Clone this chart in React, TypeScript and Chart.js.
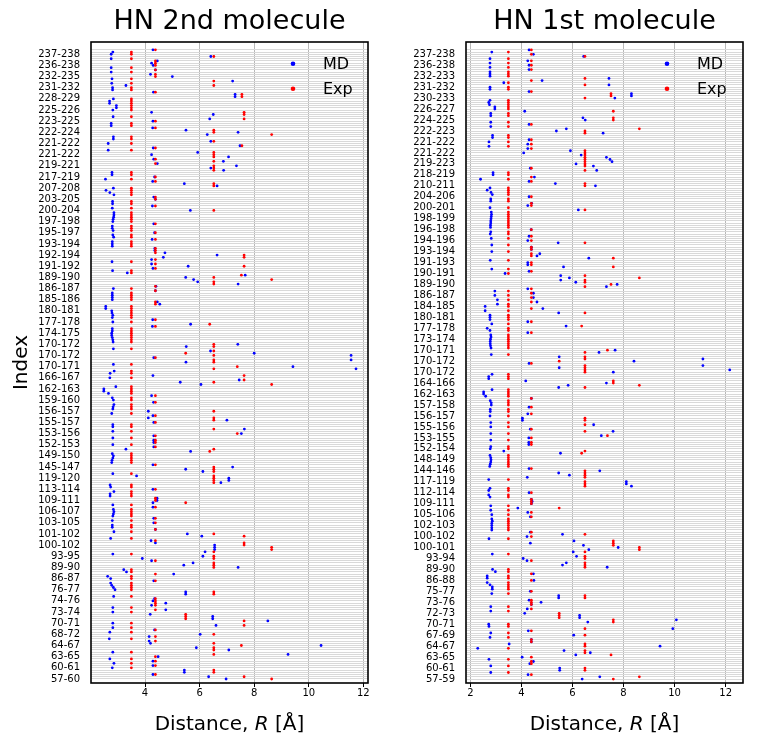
import React, { useEffect, useRef } from 'react';
import { Chart, registerables } from 'chart.js';
Chart.register(...registerables);

// ---------- DATA (rows listed top to bottom) ----------
const leftLabels = ['237-238','236-238','232-235','231-232','228-229','225-226','223-225','222-224','221-222','221-222',
  '219-221','217-219','207-208','203-205','200-204','197-198','195-197','193-194','192-194','191-192',
  '189-190','186-187','185-186','180-181','177-178','174-175','170-172','170-172','170-171','166-167',
  '162-163','159-160','156-157','155-157','153-156','152-153','149-150','145-147','119-120','113-114',
  '109-111','106-107','103-105','101-102','100-102','93-95','89-90','86-87','76-77','74-76',
  '73-74','70-71','68-72','64-67','63-65','60-61','57-60'];

const leftMD = [4.29, 2.82,
  2.76, 6.41, 2.76, 4.45, 4.24,  4.3, 2.76, 4.38, 2.76, 4.2,  5.0, 2.79, 7.21, 2.78, 3.3,  2.81, 2.81, 4.31, 7.3, 7.3,
  2.84, 2.7, 2.7, 2.95, 2.95,  2.82, 4.24, 6.5, 2.83, 6.37,  4.29, 2.76, 2.76, 4.28, 5.5,  7.41, 6.28, 2.84, 2.84, 6.41,
  2.65, 7.48, 4.3, 2.65, 5.93,  4.24, 7.06, 4.32, 6.87, 4.45,  7.35, 6.41, 6.88, 2.79, 2.79,  4.35, 2.55, 4.28, 5.44, 6.64,
  2.84, 2.57, 2.71, 2.86, 4.32,  4.38, 2.81, 2.81, 4.27, 2.8,  5.66, 2.86, 2.86, 2.85, 2.83,  2.82, 4.32, 2.8, 2.8, 2.83,
  4.35, 2.82, 2.85, 4.26, 2.8,  2.8, 2.8, 4.36, 4.36, 4.73,  6.64, 4.67, 4.24, 2.79, 4.24,  5.58, 4.29, 2.81, 3.35, 7.67,
  5.49, 5.78, 5.93, 7.41, 4.4,  2.84, 4.38, 2.8, 2.8, 2.8,  2.8, 4.45, 4.54, 2.56, 2.56,  2.78, 2.79, 2.82, 2.8, 4.28,
  2.82, 5.67, 4.27, 2.8, 2.8,  2.78, 2.78, 2.8, 2.82, 2.83,  7.4, 5.51, 2.84, 6.4, 8.0,  11.55, 4.32, 11.55, 5.5, 2.84,
  9.42, 11.73, 2.87, 2.72, 4.29,  2.71, 7.45, 5.29, 6.05, 2.93,  2.49, 2.49, 2.66, 4.24, 2.8,  2.84, 4.31, 2.86, 2.83, 2.82,
  4.12, 2.78, 4.29, 4.12, 7.0,  4.32, 2.82, 2.82, 7.64, 2.82,  7.53, 4.32, 2.82, 4.32, 4.32,  2.82, 4.32, 3.3, 5.67, 2.8,
  2.84, 2.82, 2.79, 2.78, 4.29,  7.21, 5.49, 6.12, 2.82, 3.69,  7.07, 7.07, 6.78, 2.72, 2.74,  4.29, 2.86, 2.72, 2.72, 4.44,
  4.44, 4.29, 2.82, 4.29, 2.84,  2.86, 2.84, 2.82, 4.32, 2.8,  4.32, 2.8, 2.8, 4.38, 2.86,  5.55, 6.08, 2.74, 4.22, 4.38,
  6.55, 6.55, 6.55, 6.2, 2.82,  6.12, 3.9, 4.24, 5.76, 5.42,  7.41, 3.22, 3.32, 5.05, 2.63,  2.74, 4.32, 2.74, 2.78, 2.84,
  2.9, 5.49, 5.49, 2.85, 4.35,  4.29, 4.76, 4.24, 2.82, 4.76,  2.82, 4.19, 6.48, 6.48, 8.5,  2.82, 6.6, 2.82, 4.35, 2.71,
  6.02, 4.15, 2.69, 4.15, 4.2,  10.45, 5.88, 7.07, 2.82, 9.24,  4.48, 2.71, 4.29, 2.86, 4.29,  2.8, 5.44, 5.44, 4.29, 6.33,
  6.97];

const leftExp = [4.38, 3.5,
  3.5, 6.52, 3.5, 4.38, 4.38,  4.38, 3.5, 4.38, 3.5, 4.38,  4.38, 3.5, 6.52, 3.5, 6.52,  3.5, 3.5, 4.38, 7.55, 7.55,
  3.5, 3.5, 3.5, 3.5, 3.5,  3.5, 7.63, 7.63, 3.5, 7.63,  4.38, 3.5, 3.5, 4.38, 6.52,  6.52, 8.64, 3.5, 3.5, 6.52,
  3.5, 7.55, 4.38, 3.5, 6.52,  6.52, 6.52, 4.38, 6.52, 4.38,  6.52, 6.52, 6.52, 3.5, 3.5,  4.38, 3.5, 4.38, 6.52, 6.52,
  3.5, 3.5, 3.5, 3.5, 4.38,  4.38, 3.5, 3.5, 4.38, 3.5,  6.52, 3.5, 3.5, 3.5, 3.5,  3.5, 4.38, 3.5, 3.5, 3.5,
  4.38, 3.5, 3.5, 4.38, 3.5,  3.5, 3.5, 4.38, 4.38, 4.38,  7.63, 7.63, 4.38, 3.5, 4.38,  7.63, 4.38, 3.5, 3.5, 7.53,
  6.52, 8.64, 6.52, 6.52, 4.38,  3.5, 4.38, 3.5, 3.5, 3.5,  3.5, 4.38, 4.38, 3.5, 3.5,  3.5, 3.5, 3.5, 3.5, 4.38,
  3.5, 6.37, 4.38, 3.5, 3.5,  3.5, 3.5, 3.5, 3.5, 3.5,  6.52, 6.52, 3.5, 6.52, 5.49,  6.52, 4.38, 6.52, 6.52, 3.5,
  7.38, 6.52, 3.5, 3.5, 7.63,  3.5, 7.63, 6.52, 8.64, 3.5,  3.5, 3.5, 3.5, 4.38, 3.5,  3.5, 4.38, 3.5, 3.5, 3.5,
  6.52, 3.5, 4.38, 6.52, 6.52,  4.38, 3.5, 3.5, 6.52, 3.5,  7.38, 4.38, 3.5, 4.38, 4.38,  3.5, 4.38, 6.52, 6.37, 3.5,
  3.5, 3.5, 3.5, 3.5, 4.38,  6.52, 6.52, 6.52, 3.5, 6.52,  6.52, 6.52, 6.52, 3.5, 3.5,  4.38, 3.5, 3.5, 3.5, 4.38,
  4.38, 5.49, 3.5, 4.38, 3.5,  3.5, 3.5, 3.5, 4.38, 3.5,  4.38, 3.5, 3.5, 4.38, 3.5,  6.52, 7.63, 3.5, 4.38, 7.63,
  7.63, 8.64, 8.64, 6.52, 3.5,  6.52, 6.52, 4.38, 6.52, 6.52,  6.52, 3.5, 3.5, 4.38, 3.5,  3.5, 4.38, 3.5, 3.5, 3.5,
  3.5, 6.52, 6.52, 3.5, 4.38,  4.38, 4.38, 4.38, 3.5, 4.38,  3.5, 5.49, 5.49, 5.49, 7.63,  3.5, 7.63, 3.5, 4.38, 3.5,
  6.52, 4.38, 3.5, 4.38, 6.52,  7.53, 6.52, 6.52, 3.5, 6.52,  4.38, 3.5, 4.38, 3.5, 4.38,  3.5, 6.52, 6.52, 4.38, 7.63,
  8.64];

const rightLabels = ['237-238','236-238','232-233','231-232','230-233','226-227','224-225','222-223','221-222','221-222',
  '219-223','218-219','210-211','204-206','200-201','198-199','196-198','194-196','193-194','191-193',
  '190-191','189-190','186-187','184-185','180-181','177-178','173-174','170-171','170-172','170-172',
  '164-166','162-163','157-158','156-157','155-156','153-155','152-154','148-149','144-146','117-119',
  '112-114','109-111','105-106','102-103','100-102','100-101','93-94','89-90','86-88','75-77',
  '73-76','72-73','70-71','67-69','64-67','63-65','60-61','57-59'];

const rightMD = [4.3, 2.84,
  4.47, 6.44, 2.77, 4.25, 2.77,  4.3, 2.77, 4.3, 2.77, 2.77,  2.77, 7.43, 4.81, 3.31, 7.43,  2.77, 2.77, 4.3, 8.31, 8.31,
  7.66, 2.77, 2.72, 2.75, 2.96,  2.96, 4.13, 2.8, 2.8, 6.41,  6.5, 2.8, 4.3, 2.8, 5.76,  5.37, 7.2, 2.87, 2.87, 4.3,
  2.73, 4.25, 2.73, 4.25, 5.92,  4.09, 6.34, 7.33, 7.47, 7.55,  6.14, 6.82, 4.35, 6.95, 2.89,  2.89, 4.51, 2.4, 4.3, 5.33,
  6.9, 2.77, 2.66, 2.81, 2.86,  4.3, 2.8, 2.8, 4.4, 4.25,  2.77, 6.23, 2.82, 2.83, 2.82,  2.81, 2.8, 2.8, 2.79, 2.79,
  4.38, 2.8, 2.78, 4.3, 2.82,  4.25, 5.44, 2.84, 4.39, 4.39,  2.84, 4.72, 4.61, 6.64, 2.78,  4.25, 4.25, 5.65, 2.84, 4.3,
  3.36, 5.54, 5.88, 5.54, 6.13,  7.75, 7.33, 4.25, 2.96, 4.47,  2.96, 4.47, 3.06, 4.61, 3.06,  2.58, 4.84, 2.58, 5.46, 2.77,
  2.77, 2.77, 4.25, 2.84, 5.75,  2.66, 2.77, 4.25, 2.8, 2.81,  2.79, 2.78, 2.78, 2.79, 2.81,  7.67, 7.04, 2.82, 5.48, 11.11,
  8.41, 4.3, 11.11, 5.48, 12.16,  7.6, 2.85, 2.72, 2.72, 4.17,  7.33, 5.83, 5.46, 2.85, 2.52,  2.52, 2.6, 4.39, 2.78, 2.82,
  2.82, 4.3, 2.78, 2.78, 4.25,  2.77, 4.04, 4.04, 2.8, 6.83,  2.8, 4.35, 7.59, 2.8, 7.13,  4.29, 2.8, 4.29, 4.29, 2.8,
  2.78, 3.31, 5.53, 2.77, 2.8,  2.81, 2.8, 2.78, 2.76, 4.3,  7.07, 5.46, 5.88, 4.23, 2.72,  8.11, 8.11, 8.31, 2.77, 2.72,
  4.3, 2.72, 2.77, 4.39, 4.42,  4.39, 2.8, 3.86, 2.8, 4.25,  2.84, 4.35, 2.84, 2.86, 2.84,  2.84, 2.84, 2.84, 4.35, 5.61,
  4.22, 2.73, 6.06, 4.35, 6.43,  7.79, 6.64, 6.03, 2.86, 6.16,  4.07, 4.22, 5.76, 5.61, 7.36,  2.87, 2.98, 4.47, 2.66, 2.66,
  4.49, 2.66, 2.77, 2.86, 2.86,  4.35, 2.84, 5.46, 5.46, 4.3,  4.77, 4.39, 2.8, 4.23, 2.8,  4.13, 6.28, 6.28, 10.07, 6.6,
  2.72, 2.73, 9.93, 4.27, 2.8,  6.05, 2.77, 4.39, 4.39, 3.52,  9.43, 2.29, 5.67, 6.7, 6.13,  4.03, 2.73, 4.47, 4.33, 2.8,
  5.5, 5.5, 2.8, 4.26, 7.07,
  6.38];

const rightExp = [4.39, 3.49,
  4.39, 6.49, 3.49, 4.39, 3.49,  4.39, 3.49, 4.39, 3.49, 3.49,  3.49, 6.49, 4.39, 3.49, 6.49,  3.49, 3.49, 4.39, 7.51, 7.51,
  6.49, 3.49, 3.49, 3.49, 3.49,  3.49, 7.6, 3.49, 3.49, 7.6,  7.6, 3.49, 4.39, 3.49, 8.62,  6.49, 6.49, 3.49, 3.49, 4.39,
  3.49, 4.39, 3.49, 4.39, 6.49,  6.49, 6.49, 6.49, 6.49, 6.49,  6.49, 6.49, 4.39, 6.49, 3.49,  3.49, 4.39, 3.49, 4.39, 6.49,
  6.49, 3.49, 3.49, 3.49, 3.49,  4.39, 3.49, 3.49, 4.39, 4.39,  3.49, 6.49, 3.49, 3.49, 3.49,  3.49, 3.49, 3.49, 3.49, 3.49,
  4.39, 3.49, 3.49, 4.39, 3.49,  4.39, 6.49, 3.49, 4.39, 4.39,  3.49, 4.39, 4.39, 7.6, 3.49,  4.39, 4.39, 7.6, 3.49, 4.39,
  3.49, 6.49, 8.62, 6.49, 6.49,  7.51, 6.49, 4.39, 3.49, 4.39,  3.49, 4.39, 3.49, 4.39, 3.49,  3.49, 4.39, 3.49, 6.49, 3.49,
  3.49, 3.49, 4.39, 3.49, 6.36,  3.49, 3.49, 4.39, 3.49, 3.49,  3.49, 3.49, 3.49, 3.49, 3.49,  7.37, 6.49, 3.49, 6.49, 6.49,
  5.48, 4.39, 6.49, 6.49, 6.49,  6.49, 3.49, 3.49, 3.49, 7.6,  7.6, 8.62, 6.49, 3.49, 3.49,  3.49, 3.49, 4.39, 3.49, 3.49,
  3.49, 4.39, 3.49, 3.49, 4.39,  3.49, 6.49, 6.49, 3.49, 6.49,  3.49, 4.39, 6.49, 3.49, 7.37,  4.39, 3.49, 4.39, 4.39, 3.49,
  3.49, 6.49, 6.36, 3.49, 3.49,  3.49, 3.49, 3.49, 3.49, 4.39,  6.49, 6.49, 6.49, 6.49, 3.49,  6.49, 6.49, 6.49, 3.49, 3.49,
  4.39, 3.49, 3.49, 4.39, 4.39,  4.39, 3.49, 5.48, 3.49, 4.39,  3.49, 4.39, 3.49, 3.49, 3.49,  3.49, 3.49, 3.49, 4.39, 6.49,
  4.39, 3.49, 7.6, 7.6, 7.6,  8.62, 8.62, 6.49, 3.49, 6.49,  6.49, 4.39, 6.49, 6.49, 6.49,  3.49, 3.49, 4.39, 3.49, 3.49,
  4.39, 3.49, 3.49, 3.49, 3.49,  4.39, 3.49, 6.49, 6.49, 4.39,  4.39, 4.39, 3.49, 4.39, 3.49,  5.48, 5.48, 5.48, 7.6, 7.6,
  3.49, 3.49, 6.49, 4.39, 3.49,  6.49, 3.49, 4.39, 4.39, 6.49,  6.49, 3.49, 6.49, 6.49, 7.51,  4.39, 3.49, 4.39, 4.39, 3.49,
  6.49, 6.49, 3.49, 4.39, 8.62,
  7.6];

const leftXTicks = [4, 6, 8, 10, 12];
const rightXTicks = [2, 4, 6, 8, 10, 12];
const leftTitle = 'HN 2nd molecule';
const rightTitle = 'HN 1st molecule';
const seriesNames = ['MD', 'Exp'];

const FONT = '"DejaVu Sans", "Liberation Sans", sans-serif';

type PanelCfg = {
  title: string;
  labels: string[];
  md: number[];
  exp: number[];
  xTicks: number[];
  xMin: number;
  xMax: number;
  yMax: number;
  yAxisWidth: number;
  padRight: number;
  showYTitle: boolean;
  legendX: number;
  legendTextX: number;
};

function buildChart(canvas: HTMLCanvasElement, cfg: PanelCfg) {
  const n = cfg.md.length;
  const topLabelRow = n - 3;
  const toPts = (arr: number[]) => arr.map((v, k) => ({ x: v, y: n - 1 - k }));
  const rowTicks = cfg.md.map((_, k) => ({ value: n - 1 - k })).reverse();

  const decor = {
    id: 'decor',
    afterDraw(chart: any) {
      const { ctx, chartArea: a } = chart;
      ctx.save();
      ctx.strokeStyle = '#000';
      ctx.lineWidth = 1.6;
      ctx.strokeRect(a.left, a.top, a.right - a.left, a.bottom - a.top);
      ctx.fillStyle = '#000';
      const cx = (a.left + a.right) / 2;
      ctx.font = `27px ${FONT}`;
      ctx.textAlign = 'center';
      ctx.textBaseline = 'alphabetic';
      ctx.fillText(cfg.title, cx, 29);
      const p1 = 'Distance, ';
      const p2 = 'R';
      const p3 = ' [\u00C5]';
      ctx.font = `20px ${FONT}`;
      const w1 = ctx.measureText(p1).width;
      const w3 = ctx.measureText(p3).width;
      ctx.font = `italic 20px ${FONT}`;
      const w2 = ctx.measureText(p2).width;
      const x0 = cx - (w1 + w2 + w3) / 2;
      ctx.textAlign = 'left';
      ctx.font = `20px ${FONT}`;
      ctx.fillText(p1, x0, 730);
      ctx.font = `italic 20px ${FONT}`;
      ctx.fillText(p2, x0 + w1, 730);
      ctx.font = `20px ${FONT}`;
      ctx.fillText(p3, x0 + w1 + w2, 730);
      if (cfg.showYTitle) {
        ctx.save();
        ctx.translate(27, (a.top + a.bottom) / 2);
        ctx.rotate(-Math.PI / 2);
        ctx.textAlign = 'center';
        ctx.font = `20px ${FONT}`;
        ctx.fillText('Index', 0, 0);
        ctx.restore();
      }
      const cols = ['#0000ff', '#ff0000'];
      const ys = [63.7, 88.7];
      ctx.font = `16px ${FONT}`;
      ctx.textBaseline = 'middle';
      ctx.textAlign = 'left';
      for (let s = 0; s < 2; s++) {
        ctx.fillStyle = cols[s];
        ctx.beginPath();
        ctx.arc(cfg.legendX, ys[s], 2.3, 0, Math.PI * 2);
        ctx.fill();
        ctx.fillStyle = '#000';
        ctx.fillText(seriesNames[s], cfg.legendTextX, ys[s] + 1);
      }
      ctx.restore();
    },
  };

  return new Chart(canvas, {
    type: 'scatter',
    data: {
      datasets: [
        {
          label: seriesNames[0],
          data: toPts(cfg.md),
          backgroundColor: '#0000ff',
          pointBackgroundColor: '#0000ff',
          pointBorderWidth: 0,
          pointRadius: 1.4,
          pointHoverRadius: 1.4,
          order: 2,
        },
        {
          label: seriesNames[1],
          data: toPts(cfg.exp),
          backgroundColor: '#ff0000',
          pointBackgroundColor: '#ff0000',
          pointBorderWidth: 0,
          pointRadius: 1.4,
          pointHoverRadius: 1.4,
          order: 1,
        },
      ],
    },
    options: {
      animation: false,
      responsive: false,
      devicePixelRatio: 1,
      events: [],
      layout: { padding: { left: 0, right: cfg.padRight, top: 42, bottom: 0 } },
      plugins: { legend: { display: false }, tooltip: { enabled: false }, title: { display: false } },
      scales: {
        x: {
          type: 'linear',
          min: cfg.xMin,
          max: cfg.xMax,
          border: { display: false },
          grid: { color: '#b0b0b0', lineWidth: 0.9, drawTicks: true, tickLength: 4, tickColor: '#000', tickWidth: 1 },
          ticks: { font: { family: FONT, size: 10 }, color: '#000', padding: 0, maxRotation: 0, autoSkip: false },
          afterBuildTicks: (scale: any) => {
            scale.ticks = cfg.xTicks.map((v) => ({ value: v }));
          },
          afterFit: (scale: any) => {
            scale.height = 64;
          },
        },
        y: {
          type: 'linear',
          min: -1.8,
          max: cfg.yMax,
          border: { display: false },
          grid: { color: '#d9d9d9', lineWidth: 1, drawTicks: false },
          ticks: {
            font: { family: FONT, size: 10 },
            color: '#000',
            padding: 11,
            autoSkip: false,
            callback: (value: any) => {
              const j = topLabelRow - Number(value);
              if (Number.isInteger(j) && j >= 0 && j % 5 === 0) {
                return cfg.labels[j / 5] ?? '';
              }
              return '';
            },
          },
          afterBuildTicks: (scale: any) => {
            scale.ticks = rowTicks.map((t) => ({ value: t.value }));
          },
          afterFit: (scale: any) => {
            scale.width = cfg.yAxisWidth;
          },
        },
      },
    },
    plugins: [decor],
  } as any);
}

function Panel({ cfg, left, width }: { cfg: PanelCfg; left: number; width: number }) {
  const ref = useRef<HTMLCanvasElement>(null);
  useEffect(() => {
    if (!ref.current) return;
    const chart = buildChart(ref.current, cfg);
    return () => chart.destroy();
  }, []);
  return (
    <canvas
      ref={ref}
      width={width}
      height={747}
      style={{ position: 'absolute', left, top: 0, width, height: 747 }}
    />
  );
}

const leftCfg: PanelCfg = {
  title: leftTitle,
  labels: leftLabels,
  md: leftMD,
  exp: leftExp,
  xTicks: leftXTicks,
  xMin: 2.02,
  xMax: 12.17,
  yMax: 285.5,
  yAxisWidth: 91,
  padRight: 12,
  showYTitle: true,
  legendX: 293,
  legendTextX: 323,
};

const rightCfg: PanelCfg = {
  title: rightTitle,
  labels: rightLabels,
  md: rightMD,
  exp: rightExp,
  xTicks: rightXTicks,
  xMin: 1.83,
  xMax: 12.68,
  yMax: 290.6,
  yAxisWidth: 86,
  padRight: 18,
  showYTitle: false,
  legendX: 287,
  legendTextX: 317,
};

export default function App() {
  return (
    <div style={{ position: 'absolute', left: 0, top: 0, width: 761, height: 747, background: '#fff', overflow: 'hidden' }}>
      <Panel cfg={leftCfg} left={0} width={380} />
      <Panel cfg={rightCfg} left={380} width={381} />
    </div>
  );
}
